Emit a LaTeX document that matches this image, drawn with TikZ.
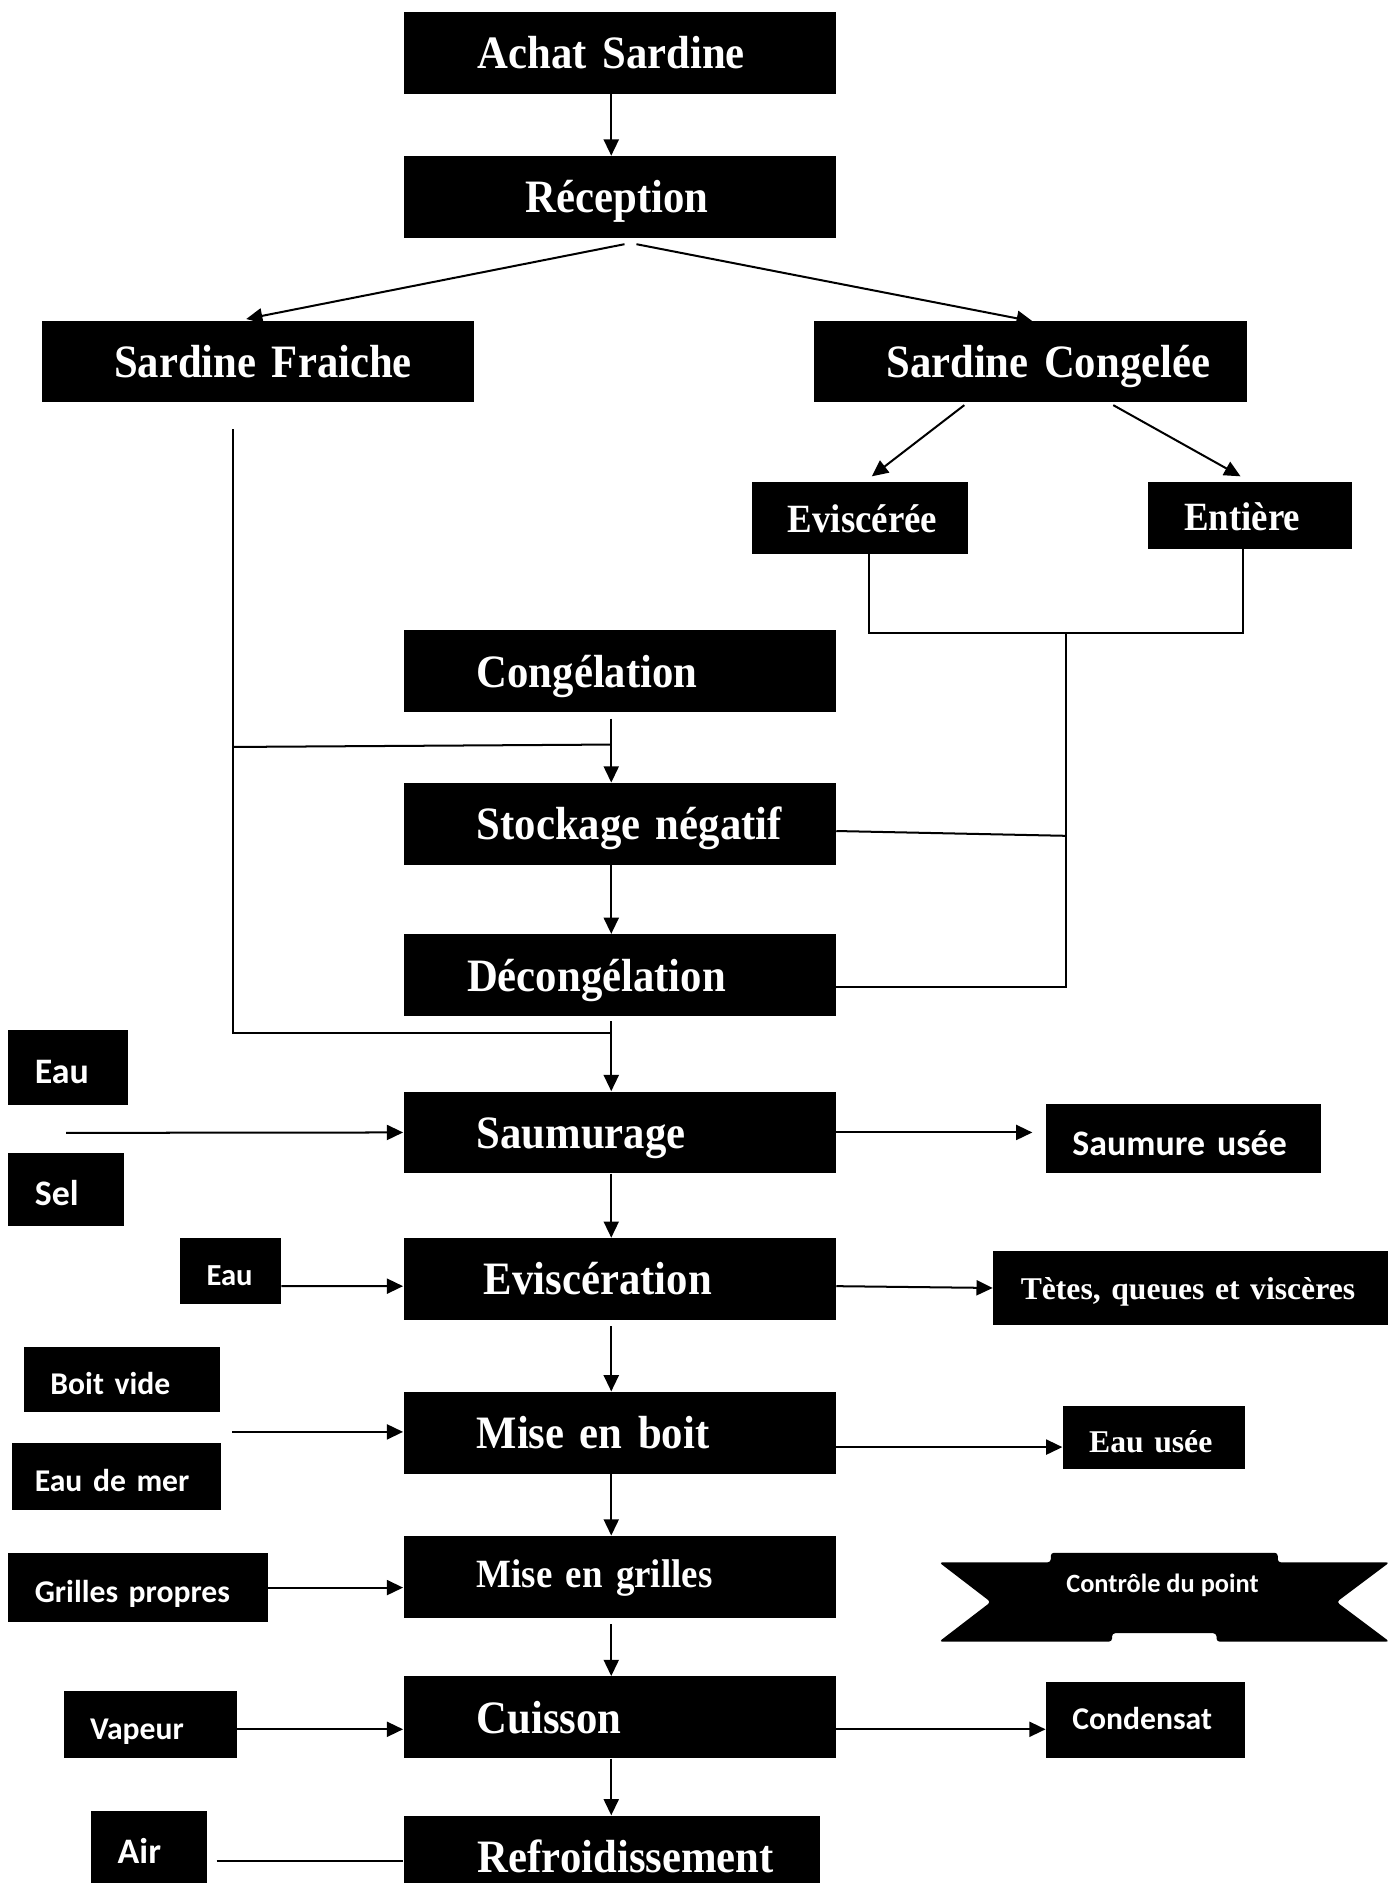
\documentclass[tikz,border=0pt]{standalone}
\usepackage{fontspec}
\newfontfamily\etapefont{Liberation Serif}[FakeStretch=0.92]
\newfontfamily\dechetfont{Liberation Serif}
\newfontfamily\sourcefont{Carlito}
\usepackage{tikz}
\usetikzlibrary{shapes,arrows.meta,positioning,calc}
\def\retrait{0pt}
\newcommand\serre{\fontdimen2\font=0.16em\relax}

\begin{document}
\begin{tikzpicture}[x=0.2mm, y=-0.2mm,
	boite/.style={fill=black, text=white, inner sep=0pt, align=left, text depth=0pt, execute at begin node={\serre\hspace*{\retrait}}},
	ind/.code={\def\retrait{#1}},
	etape/.style={boite, text width=72mm, minimum height=13.6mm, text height=5.3mm, ind=12.2mm, font=\etapefont\bfseries\fontsize{22}{26}\selectfont},
	petite/.style={text height=5mm, font=\etapefont\bfseries\fontsize{19}{23}\selectfont},
	source/.style 2 args={boite, text width=#1, minimum height=#2, text height=4.9mm, ind=4.4mm, font=\sourcefont\bfseries\fontsize{15}{18}\selectfont},
	grand/.style={text height=5.4mm, font=\sourcefont\bfseries\fontsize{17}{20}\selectfont},
	dechet/.style={text height=5mm, font=\dechetfont\bfseries\fontsize{15}{18}\selectfont},
	lien/.style={black, line width=0.95pt},
	fleche/.style={lien, -{Triangle[length=2.7mm, width=2.5mm]}}]

	\useasboundingbox (0,0) rectangle (1163,1568);
	\clip (0,0) rectangle (1163,1568);

%etapes
	\node[etape, ind=12.4mm] (achat) at (516,44) {Achat Sardine};
	\node[etape, ind=20.4mm] (recep) at (516,164) {Réception};
	\node[etape, ind=12mm] (fraiche) at (215,301) {Sardine Fraiche};
	\node[etape, ind=12mm] (congelee) at (858,301) {Sardine Congelée};
	\node[etape, petite, text width=36mm, minimum height=12mm, ind=6mm] (evisc) at (716,431) {Eviscérée};
	\node[etape, petite, text width=34mm, minimum height=11.2mm, ind=6mm] (entiere) at (1041,429) {Entière};
	\node[etape] (congel) at (516,559) {Congélation};
	\node[etape] (stock) at (516,686) {Stockage négatif};
	\node[etape, ind=10.6mm] (decong) at (516,812) {Décongélation};
	\node[etape] (saum) at (516,943) {Saumurage};
	\node[etape, ind=13.4mm] (viscer) at (516,1065) {Eviscération};
	\node[etape] (boit) at (516,1193) {Mise en boit};
	\node[etape, petite, text height=3.4mm] (grille) at (516,1313) {Mise en grilles};
	\node[etape] (cuis) at (516,1430) {Cuisson};
	\node[etape, text width=69.4mm, ind=12.4mm] (refroid) at (509.5,1546) {Refroidissement};

%entrees et sorties
	\node[source={20mm}{12.4mm}, grand] (eau) at (57,889) {Eau};
	\node[source={19.2mm}{12.2mm}, grand] (sel) at (55,990.5) {Sel};
	\node[source={45.8mm}{11.6mm}, grand, text height=5.8mm] (saumure) at (985.5,948) {Saumure usée};
	\node[source={16.8mm}{11mm}, text height=4.8mm, font=\sourcefont\bfseries\fontsize{14.5}{17}\selectfont] (eaupetit) at (192,1058.5) {Eau};
	\node[source={65.8mm}{12.2mm}, dechet, text height=4mm, ind=4.6mm] (tetes) at (991.5,1072.5) {Tètes, queues et viscères};
	\node[source={32.6mm}{10.8mm}] (boitvide) at (101.5,1149) {Boit vide};
	\node[source={34.8mm}{11mm}, ind=3.8mm] (eaumer) at (97,1229.5) {Eau de mer};
	\node[source={30.4mm}{10.4mm}, dechet] (eauusee) at (961,1197) {Eau usée};
	\node[source={43.2mm}{11.6mm}] (propres) at (115,1322) {Grilles propres};
	\node[source={28.8mm}{11.2mm}] (vapeur) at (125,1436) {Vapeur};
	\node[source={33.2mm}{12.6mm}, text height=3.2mm] (condensat) at (954,1432.5) {Condensat};
	\node[source={19.2mm}{14mm}, grand, text height=3.6mm] (air) at (124,1543) {Air};

%banderole
	\fill[black, rounded corners=1.5pt] (782,1301) -- (875,1301) -- (875,1293) -- (1064,1293) -- (1064,1301) -- (1157,1301) -- (1113,1334) -- (1157,1367) -- (1013,1367) -- (1013,1360) -- (926,1360) -- (926,1367) -- (782,1367) -- (825,1334) -- cycle;
	\node[text=white, font=\sourcefont\bfseries\fontsize{12.5}{15}\selectfont] (controle) at (968,1320) {Contrôle du point};

%fleches
	\coordinate (axe) at (509,0);
	\draw[fleche] (achat.south -| axe) -- (recep.north -| axe);
	\draw[fleche] ($(recep.south)+(4,5)$) -- ($(fraiche.north)+(-10,-1)$);
	\draw[fleche] ($(recep.south)+(14,5)$) -- ($(congelee.north)+(2,1)$);
	\draw[fleche] ($(congelee.south)+(-55,2)$) -- ($(evisc.north)+(10,-4)$);
	\draw[fleche] ($(congelee.south)+(69,2)$) -- ($(entiere.north)+(-8,-4)$);

	%congelee
	\coordinate (jonction) at (888,527);
	\draw[lien] ($(evisc.south)+(8,0)$) |- (jonction) -| ($(entiere.south)+(-6,0)$);
	\draw[lien] (jonction) |- ($(decong.east)+(0,10)$);
	\draw[lien] ($(stock.east)+(0,6)$) -- ($(stock.east -| jonction)+(0,10)$);

	%fraiche
	\coordinate (fr) at ($(fraiche.south)+(-21,22)$);
	\coordinate (branche) at (509,620);
	\coordinate (noeud) at (509,860);
	\draw[lien] (fr) |- (noeud);
	\draw[lien] ($(fr |- branche)+(0,2)$) -- (branche);

	\draw[fleche] ($(congel.south -| axe)+(0,5)$) -- (stock.north -| axe);
	\draw[fleche] (stock.south -| axe) -- (decong.north -| axe);
	\draw[fleche] ($(decong.south -| axe)+(0,4)$) -- (saum.north -| axe);
	\draw[fleche] (saum.south -| axe) -- (viscer.north -| axe);
	\draw[fleche] ($(viscer.south -| axe)+(0,5)$) -- (boit.north -| axe);
	\draw[fleche] (boit.south -| axe) -- (grille.north -| axe);
	\draw[fleche] ($(grille.south -| axe)+(0,5)$) -- (cuis.north -| axe);
	\draw[fleche] (cuis.south -| axe) -- (refroid.north -| axe);

	%entrees
	\coordinate (entree) at ($(eau.south)+(-2,23)$);
	\draw[fleche] (entree) -- (saum.west);
	\draw[fleche] ($(eaupetit.east)+(0,12.5)$) -- ($(viscer.west)+(0,6)$);
	\coordinate (entree2) at ($(boitvide.south east)+(10,16)$);
	\draw[fleche] (entree2) -- (entree2 -| boit.west);
	\draw[fleche] (propres.east) -- (propres.east -| grille.west);
	\draw[fleche] ($(vapeur.east)+(0,4)$) -- ($(vapeur.east -| cuis.west)+(0,4)$);
	\draw[lien] ($(air.east)+(8,7)$) -- ($(air.east -| refroid.west)+(0,7)$);

	%sorties
	\draw[fleche, shorten >=2.2mm] (saum.east) -- (saum.east -| saumure.west);
	\draw[fleche] ($(viscer.east)+(0,6)$) -- (tetes.west);
	\draw[fleche] ($(boit.east)+(0,12)$) -- ($(boit.east -| eauusee.west)+(0,12)$);
	\draw[fleche] ($(cuis.east)+(0,10)$) -- ($(cuis.east -| condensat.west)+(0,10)$);
\end{tikzpicture}
\end{document}
